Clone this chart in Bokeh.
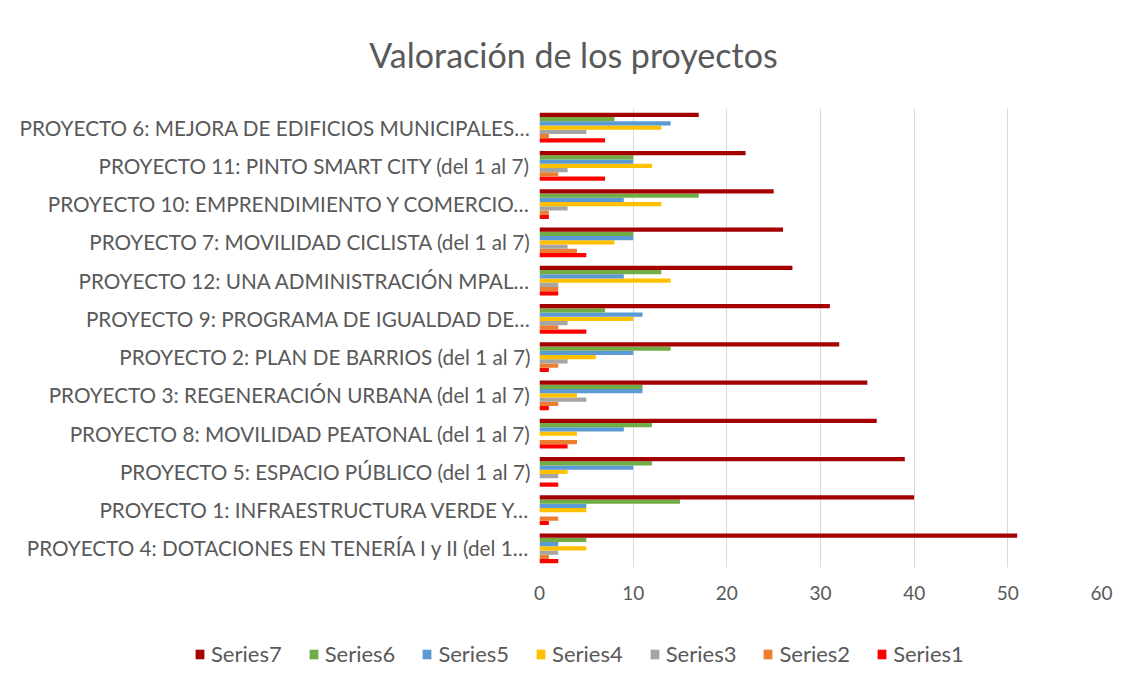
from bokeh.plotting import figure
from bokeh.models import ColumnDataSource, FactorRange, Range1d, FixedTicker, Legend, LegendItem, Label
from bokeh.transform import dodge
from bokeh.embed import file_html
from bokeh.resources import INLINE

# Categories, bottom to top
projects = [
    "PROYECTO 4: DOTACIONES EN TENERÍA I y II (del 1…",
    "PROYECTO 1: INFRAESTRUCTURA VERDE Y…",
    "PROYECTO 5: ESPACIO PÚBLICO (del 1 al 7)",
    "PROYECTO 8: MOVILIDAD PEATONAL (del 1 al 7)",
    "PROYECTO 3: REGENERACIÓN URBANA (del 1 al 7)",
    "PROYECTO 2: PLAN DE BARRIOS (del 1 al 7)",
    "PROYECTO 9: PROGRAMA DE IGUALDAD DE…",
    "PROYECTO 12: UNA ADMINISTRACIÓN MPAL…",
    "PROYECTO 7: MOVILIDAD CICLISTA (del 1 al 7)",
    "PROYECTO 10: EMPRENDIMIENTO Y COMERCIO…",
    "PROYECTO 11: PINTO SMART CITY (del 1 al 7)",
    "PROYECTO 6: MEJORA DE EDIFICIOS MUNICIPALES…",
]

series1 = [2, 1, 2, 3, 1, 1, 5, 2, 5, 1, 7, 7]
series2 = [1, 2, 0, 4, 2, 2, 2, 2, 4, 1, 2, 1]
series3 = [2, 0, 2, 0, 5, 3, 3, 2, 3, 3, 3, 5]
series4 = [5, 5, 3, 4, 4, 6, 10, 14, 8, 13, 12, 13]
series5 = [2, 5, 10, 9, 11, 10, 11, 9, 10, 9, 10, 14]
series6 = [5, 15, 12, 12, 11, 14, 7, 13, 10, 17, 10, 8]
series7 = [51, 40, 39, 36, 35, 32, 31, 27, 26, 25, 22, 17]

series_names = ["Series1", "Series2", "Series3", "Series4", "Series5", "Series6", "Series7"]
series_values = [series1, series2, series3, series4, series5, series6, series7]
colors = ["#FF0000", "#ED7D31", "#A5A5A5", "#FFC000", "#5B9BD5", "#70AD47", "#A50000"]

x_ticks = [0, 10, 20, 30, 40, 50, 60]
title_text = "Valoración de los proyectos"

data = {"proj": projects}
for n, v in zip(series_names, series_values):
    data[n] = v
source = ColumnDataSource(data)

FONT = "Lato"
TXT = "#595959"

# Title strip (separate root whose frame spans the full width)
tf = figure(width=1125, height=100, x_range=Range1d(0, 1), y_range=Range1d(0, 1),
            output_backend="svg", toolbar_location=None,
            min_border=0, x_axis_type=None, y_axis_type=None)
tf.outline_line_color = None
tf.grid.grid_line_color = None
tf.add_layout(Label(x=573, y=46, x_units="screen", y_units="screen",
                    text=title_text, text_align="center", text_baseline="middle",
                    text_font=FONT, text_font_size="34px", text_color=TXT))

p = figure(
    width=1125, height=520,
    y_range=FactorRange(factors=projects, range_padding=0),
    x_range=Range1d(0, 60),
    output_backend="svg", toolbar_location=None,
    min_border_left=539, min_border_right=24,
    min_border_top=8, min_border_bottom=53,
)
p.outline_line_color = None
p.background_fill_color = "white"
p.border_fill_color = "white"

bar_h = 0.112
for i, (n, c) in enumerate(zip(series_names, colors)):
    off = (i - 3) * bar_h
    p.hbar(y=dodge("proj", off, range=p.y_range), right=n, left=0, height=bar_h,
           source=source, fill_color=c, line_color=None)

p.xaxis.ticker = FixedTicker(ticks=x_ticks)
p.xaxis.axis_line_color = None
p.xaxis.major_tick_line_color = None
p.xaxis.minor_tick_line_color = None
p.xaxis.major_label_text_font = FONT
p.xaxis.major_label_text_font_size = "19px"
p.xaxis.major_label_text_color = TXT
p.xaxis.major_label_standoff = 12

p.yaxis.axis_line_color = None
p.yaxis.major_tick_line_color = None
p.yaxis.minor_tick_line_color = None
p.yaxis.major_label_text_font = FONT
p.yaxis.major_label_text_font_size = "20.7px"
p.yaxis.major_label_text_color = TXT
p.yaxis.major_label_standoff = 3

p.ygrid.grid_line_color = None
p.xgrid.grid_line_color = "#D9D9D9"
p.xgrid.grid_line_width = 1

# Legend strip below the chart. Its bars share the data but fall outside
# this strip's x range, so only the legend shows.
lf = figure(width=1125, height=60, x_range=Range1d(-2, -1),
            y_range=FactorRange(factors=projects),
            output_backend="svg", toolbar_location=None,
            min_border=0, x_axis_type=None, y_axis_type=None)
lf.outline_line_color = None
lf.grid.grid_line_color = None
lf.background_fill_color = "white"
items = []
for i, (n, c) in reversed(list(enumerate(zip(series_names, colors)))):
    r = lf.hbar(y=dodge("proj", 0, range=lf.y_range), right=n, left=0, height=bar_h,
                source=source, fill_color=c, line_color=None)
    items.append(LegendItem(label=n, renderers=[r], index=0))
legend = Legend(items=items, orientation="horizontal", location=(194, 13),
                label_text_font=FONT, label_text_font_size="22px",
                label_text_color=TXT, glyph_width=11, glyph_height=12,
                label_standoff=6, spacing=26, padding=0, margin=0,
                border_line_color=None, background_fill_alpha=0)
lf.add_layout(legend)

open("out.html", "w").write(file_html([tf, p, lf], INLINE))
